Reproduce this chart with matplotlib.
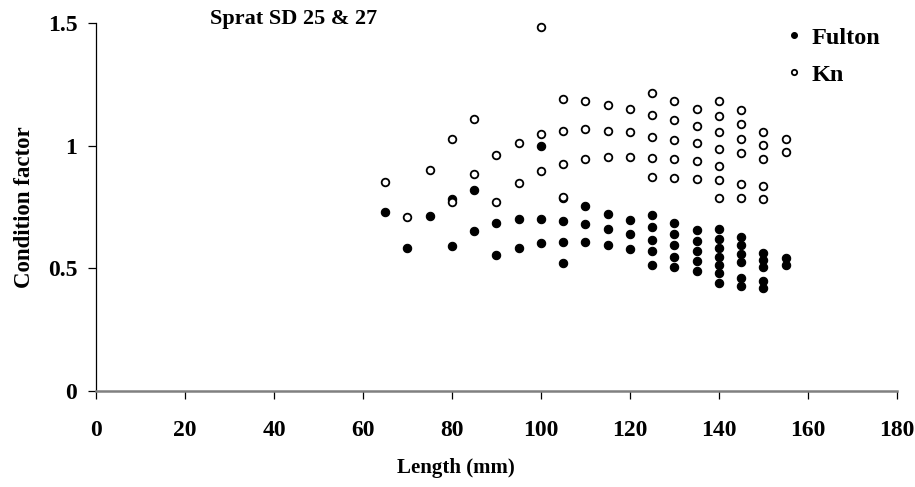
import matplotlib
matplotlib.use("Agg")
import matplotlib.pyplot as plt

# condition factor by length class
fulton_len = [65, 70, 75, 80, 80, 85, 85, 90, 90, 95, 95,
              100, 100, 100, 105, 105, 105, 105, 110, 110, 110,
              115, 115, 115, 120, 120, 120,
              125, 125, 125, 125, 125, 130, 130, 130, 130, 130,
              135, 135, 135, 135, 135,
              140, 140, 140, 140, 140, 140, 140,
              145, 145, 145, 145, 145, 145,
              150, 150, 150, 150, 150, 155, 155]
fulton_cf = [0.728, 0.584, 0.713, 0.783, 0.590, 0.820, 0.653, 0.686, 0.553, 0.701, 0.584,
             1.000, 0.701, 0.602, 0.785, 0.692, 0.606, 0.520, 0.755, 0.680, 0.606,
             0.723, 0.659, 0.595, 0.696, 0.639, 0.579,
             0.719, 0.668, 0.617, 0.569, 0.515, 0.686, 0.639, 0.596, 0.546, 0.504,
             0.655, 0.611, 0.572, 0.531, 0.489,
             0.659, 0.621, 0.583, 0.547, 0.515, 0.479, 0.441,
             0.628, 0.595, 0.559, 0.525, 0.461, 0.429,
             0.564, 0.535, 0.504, 0.448, 0.418, 0.543, 0.513]

kn_len = [65, 70, 75, 80, 80, 85, 85, 90, 90, 95, 95,
          100, 100, 100, 105, 105, 105, 105, 110, 110, 110,
          115, 115, 115, 120, 120, 120,
          125, 125, 125, 125, 125, 130, 130, 130, 130, 130,
          135, 135, 135, 135, 135,
          140, 140, 140, 140, 140, 140, 140,
          145, 145, 145, 145, 145, 145,
          150, 150, 150, 150, 150, 155, 155]
kn_cf = [0.850, 0.708, 0.900, 1.028, 0.770, 1.109, 0.885, 0.964, 0.770, 1.013, 0.847,
         1.486, 1.048, 0.897, 1.191, 1.059, 0.924, 0.792, 1.182, 1.067, 0.947,
         1.167, 1.059, 0.953, 1.150, 1.055, 0.955,
         1.214, 1.126, 1.037, 0.951, 0.871, 1.183, 1.104, 1.025, 0.947, 0.870,
         1.150, 1.080, 1.010, 0.938, 0.864,
         1.183, 1.122, 1.055, 0.986, 0.919, 0.860, 0.788,
         1.146, 1.088, 1.029, 0.972, 0.845, 0.788,
         1.055, 1.002, 0.947, 0.836, 0.783, 1.028, 0.975]

x_ticks = [0, 20, 40, 60, 80, 100, 120, 140, 160, 180]
y_ticks = [0, 0.5, 1, 1.5]
y_ticklabels = ["0", "0.5", "1", "1.5"]

plt.rcParams["font.family"] = ["Liberation Serif", "DejaVu Serif"]
plt.rcParams["font.weight"] = "bold"

fig = plt.figure(figsize=(9.15, 4.87), dpi=100)
ax = fig.add_axes([0.105, 0.198, 0.875, 0.754])

ax.plot(fulton_len, fulton_cf, "o", ms=6.0, mfc="black", mec="black", mew=0.8,
        label="Fulton", clip_on=False)
ax.plot(kn_len, kn_cf, "o", ms=5.5, mfc="white", mec="black", mew=1.3,
        label="Kn", clip_on=False)

ax.set_xlim(0, 180)
ax.set_ylim(0, 1.5)
ax.set_xticks(x_ticks)
ax.set_yticks(y_ticks)
ax.set_yticklabels(y_ticklabels)

for s in ["top", "right"]:
    ax.spines[s].set_visible(False)
ax.spines["left"].set_color("black")
ax.spines["left"].set_linewidth(0.9)
ax.spines["bottom"].set_color("#808080")
ax.spines["bottom"].set_linewidth(1.8)

ax.tick_params(axis="x", direction="out", length=5.5, width=0.9, color="black",
               pad=15.5, labelsize=17)
ax.tick_params(axis="y", direction="out", length=5.5, width=0.9, color="black",
               pad=8, labelsize=17)

ax.set_xlabel("Length (mm)", fontsize=15, fontweight="bold")
ax.xaxis.set_label_coords(0.45, -0.183)
ax.set_ylabel("Condition factor", fontsize=16.5, fontweight="bold", labelpad=9)

fig.text(0.229, 0.962, "Sprat SD 25 & 27", fontsize=16, fontweight="bold",
         ha="left", va="center")

ax.legend(loc="upper left", bbox_to_anchor=(0.836, 0.99), bbox_transform=fig.transFigure,
          frameon=False, markerscale=0.7, handlelength=0.6, handletextpad=0.4,
          labelspacing=0.62, prop={"size": 17.5, "weight": "bold"})

fig.savefig("out.png", dpi=100)
